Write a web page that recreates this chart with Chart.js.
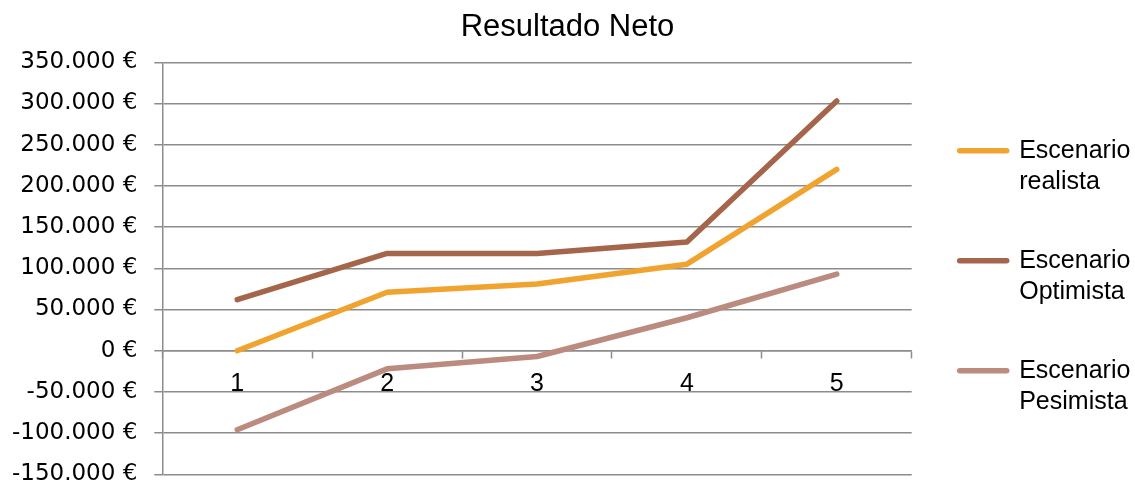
<!DOCTYPE html>
<html>
<head>
<meta charset="utf-8">
<script src="https://cdn.jsdelivr.net/npm/chart.js@4"></script>
<style>
  html, body { margin: 0; padding: 0; background: #ffffff; }
  #wrap { width: 1135px; height: 490px; }
</style>
</head>
<body>
<div id="wrap"><canvas id="chart" width="1135" height="490"></canvas></div>
<script>
// Periods (years) and net result per scenario, in euros
const periods = ['1', '2', '3', '4', '5'];
const realista = [0, 71000, 81000, 105000, 220000];
const optimista = [62000, 118000, 118000, 132000, 303000];
const pesimista = [-96000, -22000, -7000, 40000, 93000];

const seriesNames = [['Escenario', 'realista'], ['Escenario', 'Optimista'], ['Escenario', 'Pesimista']];
const seriesColors = ['#F0A42F', '#A5654B', '#BA8B7E'];

const yMin = -150000, yMax = 350000, yStep = 50000;
const gridColor = '#8c8c8c';

function euro(v) {
  const neg = v < 0;
  const s = String(Math.abs(Math.round(v))).replace(/\B(?=(\d{3})+(?!\d))/g, '.');
  return (neg ? '-' : '') + s + ' €';
}

const makeSet = (label, data, color) => ({
  label: label,
  data: data,
  borderColor: color,
  backgroundColor: color,
  borderWidth: 5.5,
  borderCapStyle: 'round',
  borderJoinStyle: 'round',
  pointRadius: 0,
  pointHoverRadius: 0,
  tension: 0,
  fill: false
});

new Chart(document.getElementById('chart'), {
  type: 'line',
  data: {
    labels: periods,
    datasets: [
      makeSet(seriesNames[0], realista, seriesColors[0]),
      makeSet(seriesNames[1], optimista, seriesColors[1]),
      makeSet(seriesNames[2], pesimista, seriesColors[2])
    ]
  },
  options: {
    responsive: false,
    animation: false,
    layout: { padding: { left: 0, right: 0, top: 0, bottom: 15.7 } },
    plugins: {
      tooltip: { enabled: false },
      title: {
        display: true,
        text: 'Resultado Neto',
        color: '#000000',
        font: { family: '"Liberation Sans", Arial, sans-serif', size: 31, weight: 'normal', lineHeight: 1.2 },
        padding: { top: 9, bottom: 16.1 }
      },
      legend: {
        display: true,
        position: 'right',
        align: 'start',
        maxWidth: 223.3,
        title: { display: true, text: ' ', font: { size: 10, lineHeight: 1.2 }, padding: { top: 0, bottom: 78.2 } },
        labels: {
          usePointStyle: true,
          pointStyle: 'line',
          pointStyleWidth: 47,
          boxWidth: 47,
          padding: 48,
          color: '#000000',
          font: { family: '"Liberation Sans", Arial, sans-serif', size: 25, lineHeight: 1.24 },
          generateLabels(chart) {
            return chart.data.datasets.map((ds, i) => ({
              text: ds.label,
              strokeStyle: ds.borderColor,
              fillStyle: ds.borderColor,
              lineWidth: 5.5,
              lineCap: 'round',
              pointStyle: 'line',
              hidden: false,
              datasetIndex: i,
              fontColor: '#000000'
            }));
          }
        }
      }
    },
    scales: {
      x: {
        type: 'category',
        position: { y: 0 },
        offset: true,
        grid: {
          offset: true,
          drawOnChartArea: false,
          drawTicks: true,
          tickLength: 7,
          tickWidth: 1.5,
          tickColor: gridColor
        },
        border: { display: true, color: gridColor, width: 1.5 },
        ticks: {
          color: '#000000',
          padding: 11,
          maxRotation: 0,
          font: { family: '"Liberation Sans", Arial, sans-serif', size: 25 }
        }
      },
      y: {
        min: yMin,
        max: yMax,
        afterFit(scale) {
          scale.width = 162.3;
          scale.paddingBottom = 0;
        },
        grid: {
          color: gridColor,
          lineWidth: 1.5,
          drawTicks: true,
          tickLength: 8,
          tickColor: gridColor
        },
        border: { display: true, color: gridColor, width: 1.5 },
        ticks: {
          stepSize: yStep,
          color: '#000000',
          padding: 17,
          font: { family: '"DejaVu Sans", sans-serif', size: 23 },
          callback: (v) => euro(v)
        }
      }
    }
  }
});
</script>
</body>
</html>
